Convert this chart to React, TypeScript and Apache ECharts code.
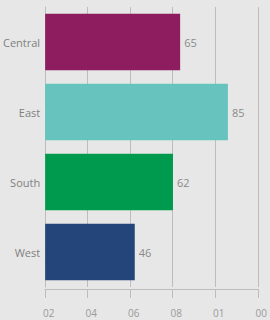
import React, { useEffect, useRef } from "react";
import * as echarts from "echarts";

const categories = ["Central", "East", "South", "West"];
const values = [65, 85, 62, 46];
const barColors = ["#8D1D5E", "#67C3BE", "#009A4E", "#244579"];
const tickLabels = ["02", "04", "06", "08", "01", "00"];

export default function App() {
  const ref = useRef<HTMLDivElement>(null);
  useEffect(() => {
    if (!ref.current) return;
    const chart = echarts.init(ref.current, null, { renderer: "svg" });
    const font = "'Open Sans', 'Noto Sans', sans-serif";
    chart.setOption({
      animation: false,
      backgroundColor: "#e7e7e7",
      grid: { left: 43, right: 8, top: 7, height: 280, containLabel: false },
      xAxis: [
        {
          type: "value",
          min: 8.5,
          max: 97.5,
          show: false,
        },
        {
          type: "value",
          min: 0,
          max: 5,
          interval: 1,
          position: "bottom",
          offset: 2,
          axisLine: { show: true, lineStyle: { color: "#bdbdbd", width: 1 } },
          axisTick: { show: true, length: 9, lineStyle: { color: "#bdbdbd" } },
          splitLine: { show: true, lineStyle: { color: "#bdbdbd", width: 1 } },
          axisLabel: {
            color: "#9a9a9a",
            fontSize: 10,
            fontFamily: font,
            margin: 19,
            padding: [0, 0, 0, 7],
            formatter: (v: number) => tickLabels[Math.round(v)] ?? "",
          },
        },
      ],
      yAxis: {
        type: "category",
        data: categories,
        inverse: true,
        axisLine: { show: true, lineStyle: { color: "#bdbdbd" } },
        axisTick: { show: false },
        axisLabel: { color: "#7f7f7f", fontSize: 11, fontFamily: font, margin: 5 },
      },
      series: [
        {
          type: "bar",
          xAxisIndex: 0,
          data: values.map((v, i) => ({ value: v, itemStyle: { color: barColors[i] } })),
          barCategoryGap: "19%",
          label: {
            show: true,
            position: "right",
            distance: 4,
            color: "#8a8a8a",
            fontSize: 11,
            fontFamily: font,
          },
        },
      ],
    });
    return () => chart.dispose();
  }, []);
  return (
    <div
      ref={ref}
      style={{ position: "fixed", left: 0, top: 0, width: 270, height: 320 }}
    />
  );
}
